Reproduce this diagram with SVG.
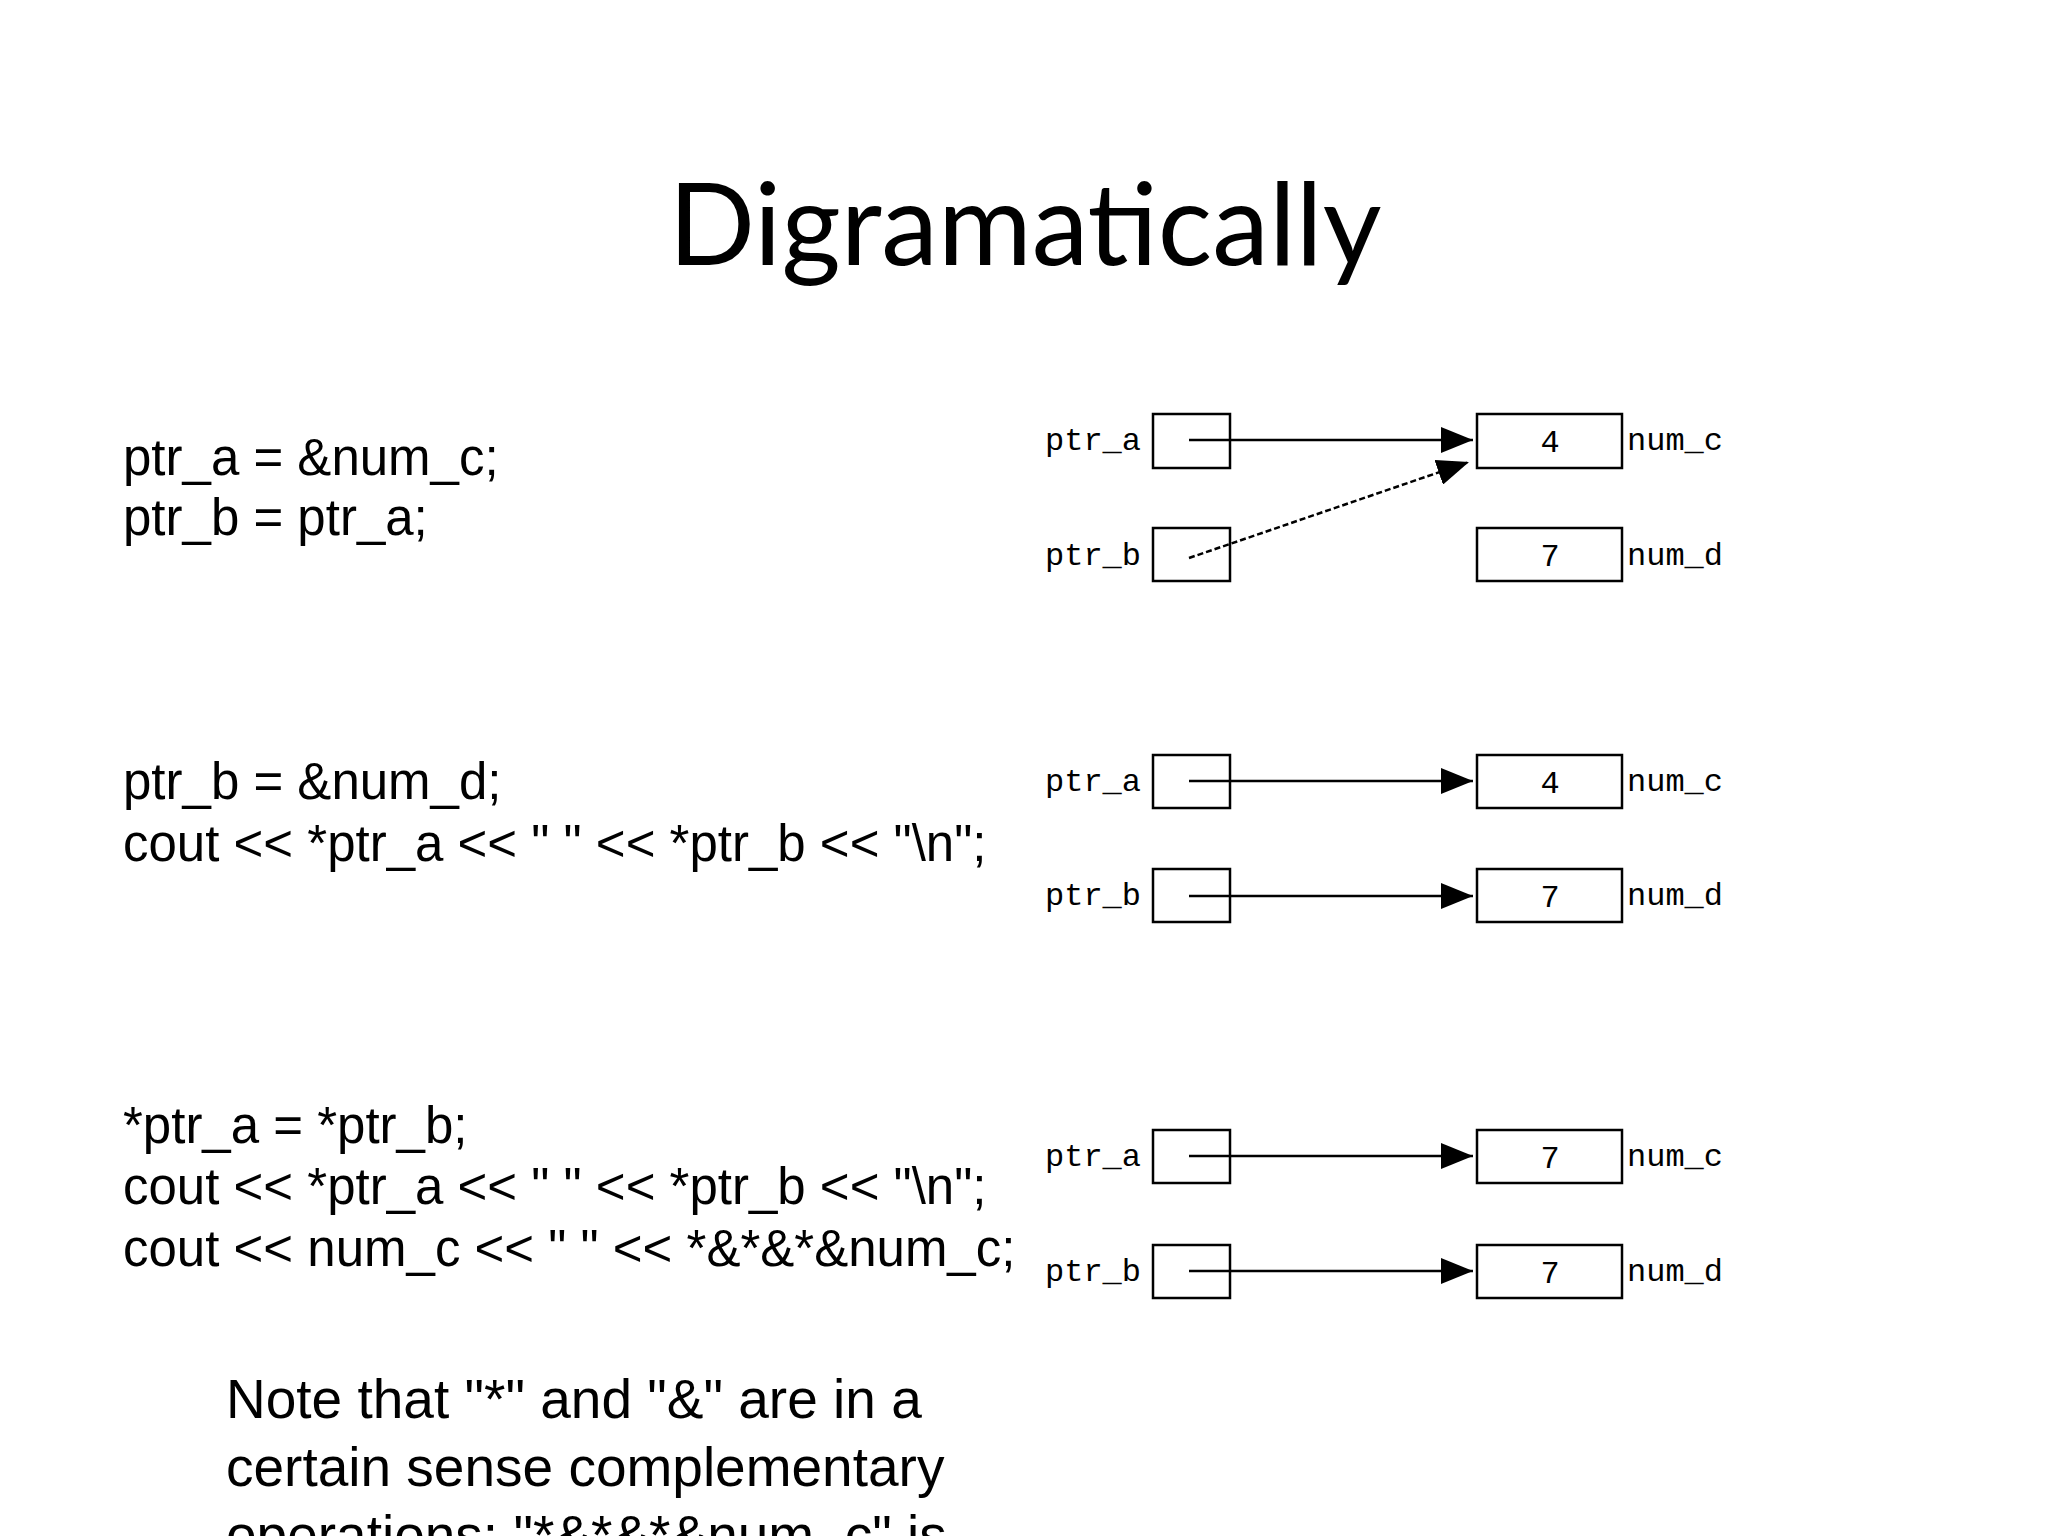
<svg xmlns="http://www.w3.org/2000/svg" width="2048" height="1536" viewBox="0 0 2048 1536">
<style>
.code{font-family:"Liberation Sans",Arial,sans-serif;font-size:51px;fill:#000}
.note{font-family:"Liberation Sans",Arial,sans-serif;font-size:55px;fill:#000}
.lbl{font-family:"Liberation Mono","Courier New",monospace;font-size:32px;fill:#000}
.val{font-family:"Liberation Mono","Courier New",monospace;font-size:32px;fill:#000;text-anchor:middle}
.box{fill:#fff;stroke:#000;stroke-width:2.5}
</style>
<defs>
<marker id="ahb" markerWidth="32" markerHeight="26" refX="32" refY="13" orient="auto" markerUnits="userSpaceOnUse">
<path d="M0,0 L32,13 L0,26 Z" fill="#000"/>
</marker>
</defs>
<rect width="2048" height="1536" fill="#fff"/>
<text x="1025" y="265" text-anchor="middle" font-family="Lato,sans-serif" font-size="114">Digramatically</text>
<g id="code">
<text class="code" x="123" y="475">ptr_a = &amp;num_c;</text>
<text class="code" x="123" y="535">ptr_b = ptr_a;</text>
<text class="code" x="123" y="799">ptr_b = &amp;num_d;</text>
<text class="code" x="123" y="861">cout &lt;&lt; *ptr_a &lt;&lt; " " &lt;&lt; *ptr_b &lt;&lt; "\n";</text>
<text class="code" x="123" y="1143">*ptr_a = *ptr_b;</text>
<text class="code" x="123" y="1204">cout &lt;&lt; *ptr_a &lt;&lt; " " &lt;&lt; *ptr_b &lt;&lt; "\n";</text>
<text class="code" x="123" y="1266">cout &lt;&lt; num_c &lt;&lt; " " &lt;&lt; *&amp;*&amp;*&amp;num_c;</text>
<text class="note" x="226" y="1418">Note that "*" and "&amp;" are in a</text>
<text class="note" x="226" y="1486">certain sense complementary</text>
<text class="note" x="226" y="1554">operations: "*&amp;*&amp;*&amp;num_c" is</text>
</g>
<g id="nodes">
<g id="d1">
<text class="lbl" x="1045" y="450">ptr_a</text><rect class="box" x="1153" y="414" width="77" height="54"/>
<text class="lbl" x="1045" y="565">ptr_b</text><rect class="box" x="1153" y="528" width="77" height="53"/>
<rect class="box" x="1477" y="414" width="145" height="54"/><text class="val" x="1550" y="452">4</text><text class="lbl" x="1627" y="450">num_c</text>
<rect class="box" x="1477" y="528" width="145" height="53"/><text class="val" x="1550" y="566">7</text><text class="lbl" x="1627" y="565">num_d</text>
</g>
<g id="d2">
<text class="lbl" x="1045" y="791">ptr_a</text><rect class="box" x="1153" y="755" width="77" height="53"/>
<text class="lbl" x="1045" y="905">ptr_b</text><rect class="box" x="1153" y="869" width="77" height="53"/>
<rect class="box" x="1477" y="755" width="145" height="53"/><text class="val" x="1550" y="793">4</text><text class="lbl" x="1627" y="791">num_c</text>
<rect class="box" x="1477" y="869" width="145" height="53"/><text class="val" x="1550" y="907">7</text><text class="lbl" x="1627" y="905">num_d</text>
</g>
<g id="d3">
<text class="lbl" x="1045" y="1166">ptr_a</text><rect class="box" x="1153" y="1130" width="77" height="53"/>
<text class="lbl" x="1045" y="1281">ptr_b</text><rect class="box" x="1153" y="1245" width="77" height="53"/>
<rect class="box" x="1477" y="1130" width="145" height="53"/><text class="val" x="1550" y="1168">7</text><text class="lbl" x="1627" y="1166">num_c</text>
<rect class="box" x="1477" y="1245" width="145" height="53"/><text class="val" x="1550" y="1283">7</text><text class="lbl" x="1627" y="1281">num_d</text>
</g>
</g>
<g id="connectors" stroke="#000" stroke-width="2.5" fill="none">
<line x1="1189" y1="440" x2="1473" y2="440" marker-end="url(#ahb)"/>
<line x1="1189" y1="558" x2="1469" y2="462" stroke-dasharray="6,3" marker-end="url(#ahb)"/>
<line x1="1189" y1="781" x2="1473" y2="781" marker-end="url(#ahb)"/>
<line x1="1189" y1="896" x2="1473" y2="896" marker-end="url(#ahb)"/>
<line x1="1189" y1="1156" x2="1473" y2="1156" marker-end="url(#ahb)"/>
<line x1="1189" y1="1271" x2="1473" y2="1271" marker-end="url(#ahb)"/>
</g>
</svg>
